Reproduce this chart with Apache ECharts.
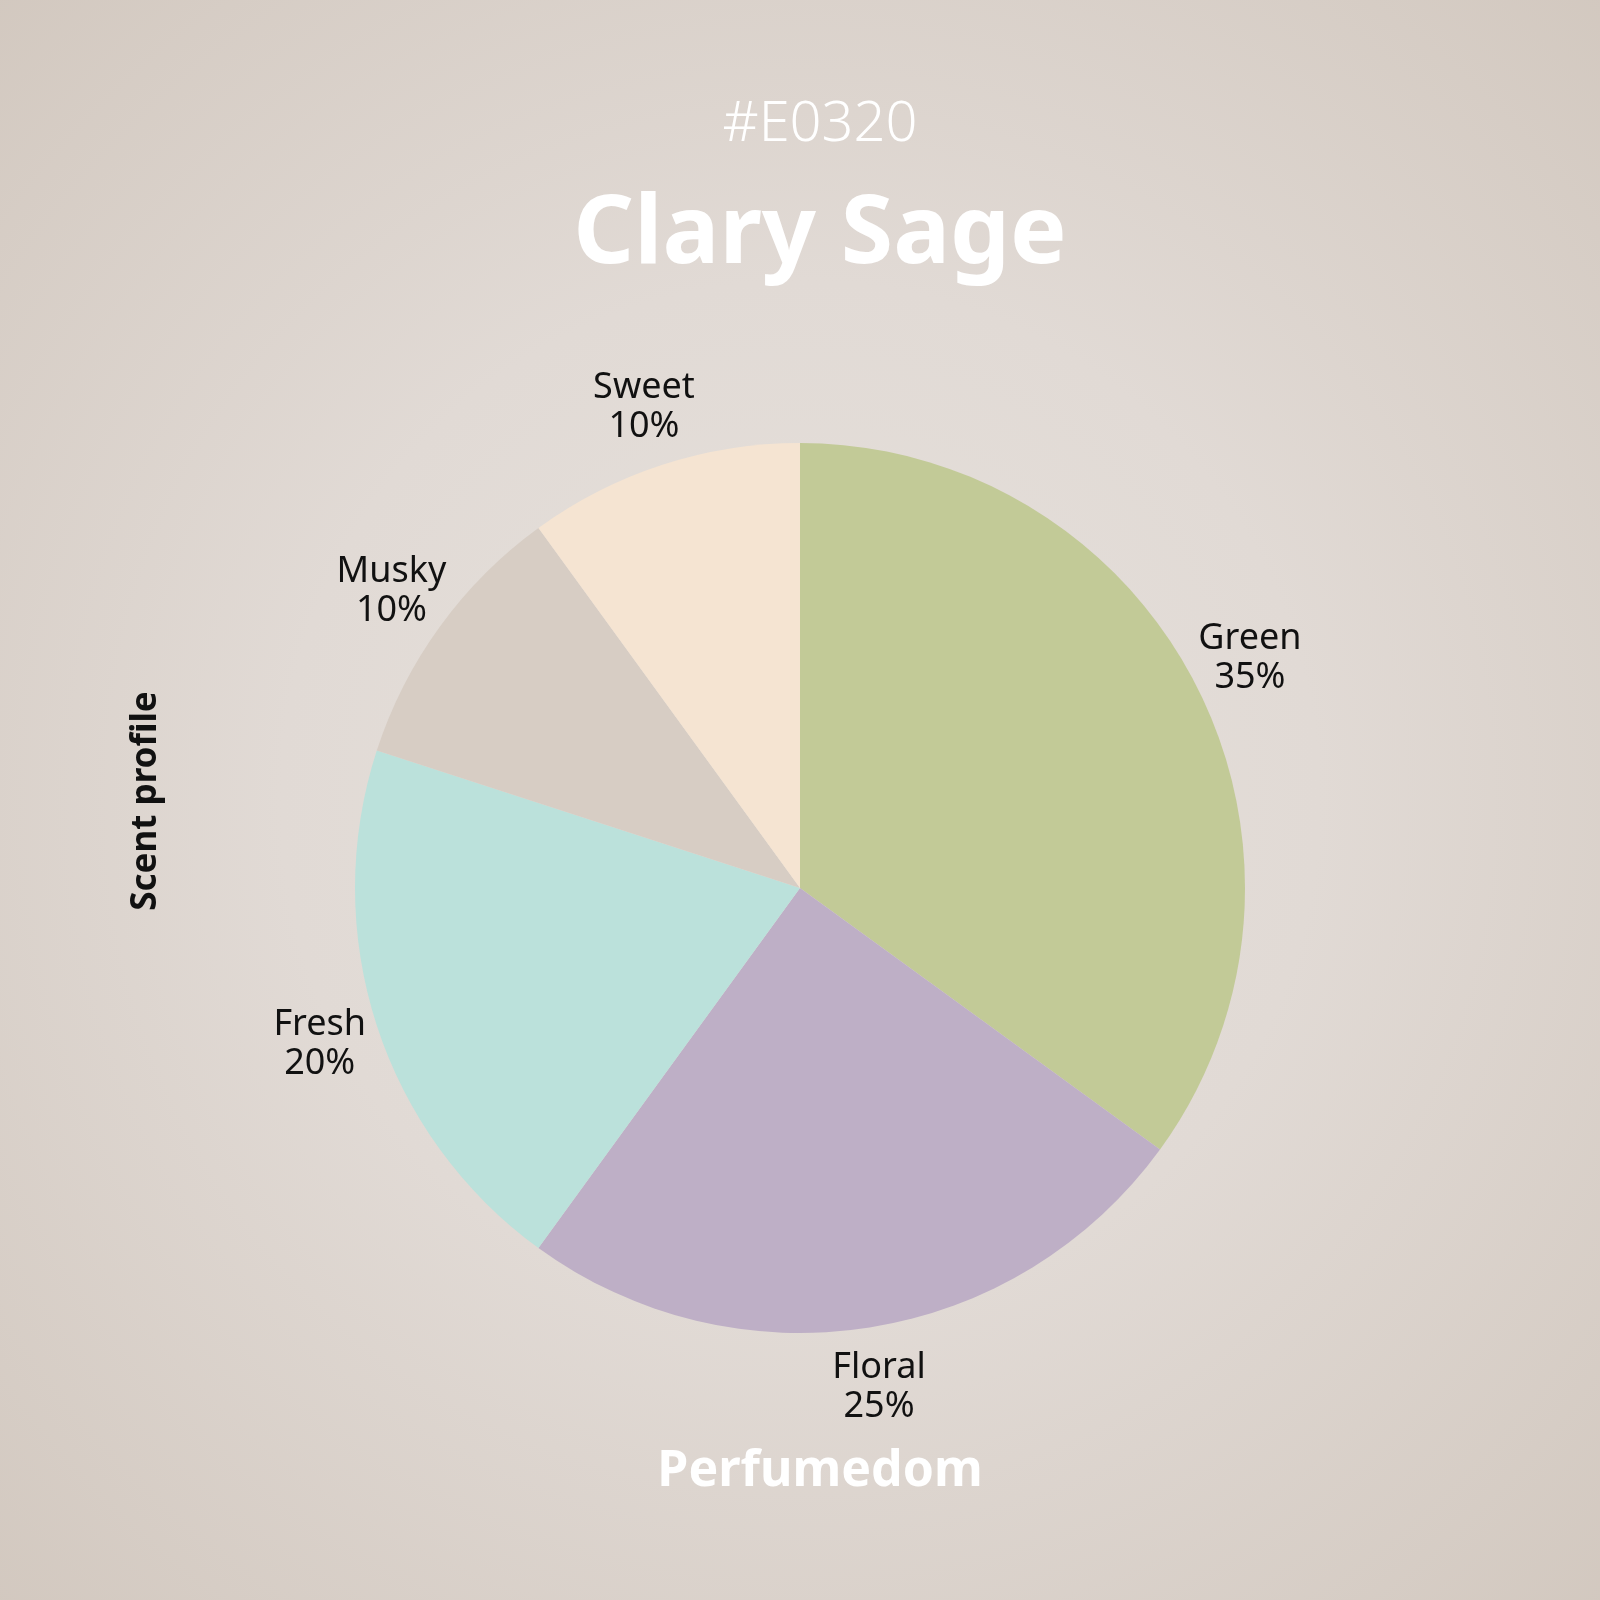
<!DOCTYPE html>
<html>
<head>
<meta charset="utf-8">
<script src="https://cdn.jsdelivr.net/npm/echarts@6/dist/echarts.min.js"></script>
<style>
  html, body { margin: 0; padding: 0; }
  #chart { width: 1600px; height: 1600px; }
</style>
</head>
<body>
<div id="chart"></div>
<script>
// scent profile data
const notes = ['Green', 'Floral', 'Fresh', 'Musky', 'Sweet'];
const shares = [35, 25, 20, 10, 10];
const noteColors = ['#C2CA97', '#BEAFC6', '#BBE1DB', '#D7CDC4', '#F5E4D2'];

const FONT = '"Noto Sans", sans-serif';

const pieData = notes.map((n, i) => ({ name: n, value: shares[i] }));

const chart = echarts.init(document.getElementById('chart'), null, { renderer: 'canvas' });

chart.setOption({
    backgroundColor: {
        type: 'radial', x: 0.5, y: 0.5, r: 0.72,
        colorStops: [
            { offset: 0, color: '#E6E1DC' },
            { offset: 0.45, color: '#E1DAD5' },
            { offset: 1, color: '#D2C8BF' }
        ]
    },
    title: [
        {
            text: '#E0320',
            left: 815,
            textAlign: 'center',
            top: 92,
            textStyle: { color: '#FFFFFF', fontFamily: FONT, fontSize: 56, fontWeight: 300 }
        },
        {
            text: 'Clary Sage',
            left: 815,
            textAlign: 'center',
            top: 183,
            textStyle: { color: '#FFFFFF', fontFamily: FONT, fontSize: 95, fontWeight: 'bold' }
        },
        {
            text: 'Perfumedom',
            left: 815,
            textAlign: 'center',
            top: 1442,
            textStyle: { color: '#FFFFFF', fontFamily: FONT, fontSize: 50, fontWeight: 'bold' }
        }
    ],
    graphic: [
        {
            type: 'text',
            x: 146,
            y: 801,
            rotation: Math.PI / 2,
            style: {
                text: 'Scent profile',
                fill: '#111111',
                font: 'bold 35px "Noto Sans", sans-serif',
                align: 'center',
                verticalAlign: 'middle'
            }
        }
    ],
    series: [
        {
            // the actual pie
            type: 'pie',
            center: [800, 888],
            radius: [0, 445],
            startAngle: 90,
            clockwise: true,
            silent: true,
            label: { show: false },
            labelLine: { show: false },
            color: noteColors,
            data: pieData
        },
        {
            // transparent ring only used to place the centered labels outside
            type: 'pie',
            center: [800, 888],
            radius: [450, 554],
            startAngle: 90,
            clockwise: true,
            silent: true,
            itemStyle: { color: 'rgba(0,0,0,0)' },
            label: {
                show: true,
                position: 'inside',
                formatter: p => p.name + '\n' + p.value + '%',
                color: '#111111',
                fontFamily: FONT,
                fontSize: 36,
                lineHeight: 39,
                align: 'center'
            },
            labelLine: { show: false },
            data: pieData
        }
    ]
});
</script>
</body>
</html>
